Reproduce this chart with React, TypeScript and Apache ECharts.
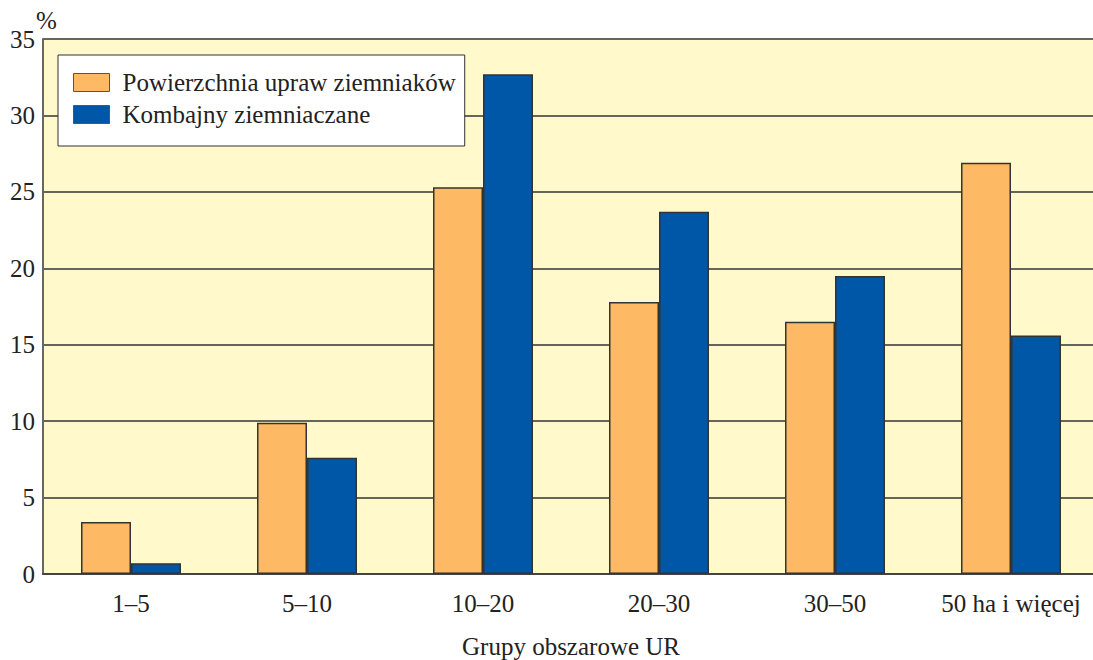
import React, { useEffect, useRef } from "react";
import * as echarts from "echarts";

const categories = ["1–5", "5–10", "10–20", "20–30", "30–50", "50 ha i więcej"];
const seriesNames = ["Powierzchnia upraw ziemniaków", "Kombajny ziemniaczane"];
const powierzchnia = [3.4, 9.9, 25.3, 17.8, 16.5, 26.9];
const kombajny = [0.7, 7.6, 32.7, 23.7, 19.5, 15.6];
const yTicks = { min: 0, max: 35, interval: 5 };

const FONT = "Liberation Serif, Times New Roman, serif";
const FS = 25;

export default function App() {
  const ref = useRef<HTMLDivElement>(null);
  useEffect(() => {
    if (!ref.current) return;
    const chart = echarts.init(ref.current, null, { renderer: "svg" });
    chart.setOption({
      animation: false,
      backgroundColor: "#ffffff",
      textStyle: { fontFamily: FONT },
      grid: {
        left: 43,
        top: 39,
        right: -6,
        bottom: 86,
        outerBoundsMode: "none",
        containLabel: false,
        show: true,
        backgroundColor: "#FFF9CB",
        borderWidth: 0,
      },
      legend: {
        orient: "vertical",
        left: 58,
        top: 55,
        padding: [15, 9, 19, 15],
        itemGap: 7,
        itemWidth: 36,
        itemHeight: 18,
        icon: "rect",
        backgroundColor: "#ffffff",
        borderColor: "#333333",
        borderWidth: 1,
        textStyle: { fontFamily: FONT, fontSize: FS, color: "#222222", padding: [0, 0, 0, 8] },
        itemStyle: { borderColor: "#555555", borderWidth: 1 },
        data: seriesNames,
      },
      graphic: [
        {
          type: "text",
          left: 36,
          top: 8,
          style: { text: "%", fontFamily: FONT, fontSize: FS, fill: "#222222" },
        },
      ],
      xAxis: {
        type: "category",
        data: categories,
        axisLine: { show: true, lineStyle: { color: "#444444", width: 2 } },
        axisTick: { show: false },
        axisLabel: { fontFamily: FONT, fontSize: FS, color: "#222222", margin: 17, interval: 0 },
        name: "Grupy obszarowe UR",
        nameLocation: "middle",
        nameGap: 60,
        nameTextStyle: { fontFamily: FONT, fontSize: FS, color: "#222222" },
      },
      yAxis: {
        type: "value",
        min: yTicks.min,
        max: yTicks.max,
        interval: yTicks.interval,
        axisLine: { show: true, lineStyle: { color: "#666666", width: 2 } },
        axisTick: { show: false },
        axisLabel: { fontFamily: FONT, fontSize: FS, color: "#222222", margin: 8 },
        splitLine: { show: true, lineStyle: { color: "#333333", width: 1.5 } },
      },
      series: [
        {
          name: seriesNames[0],
          type: "bar",
          data: powierzchnia,
          barWidth: 50,
          barGap: "0%",
          itemStyle: { color: "#FDB963", borderColor: "#333333", borderWidth: 1.5 },
        },
        {
          name: seriesNames[1],
          type: "bar",
          data: kombajny,
          barWidth: 50,
          barGap: "0%",
          itemStyle: { color: "#0057A8", borderColor: "#333333", borderWidth: 1.5 },
        },
      ],
    });
    return () => chart.dispose();
  }, []);
  return (
    <div
      ref={ref}
      style={{ position: "fixed", left: 0, top: 0, width: 1093, height: 660 }}
    />
  );
}
